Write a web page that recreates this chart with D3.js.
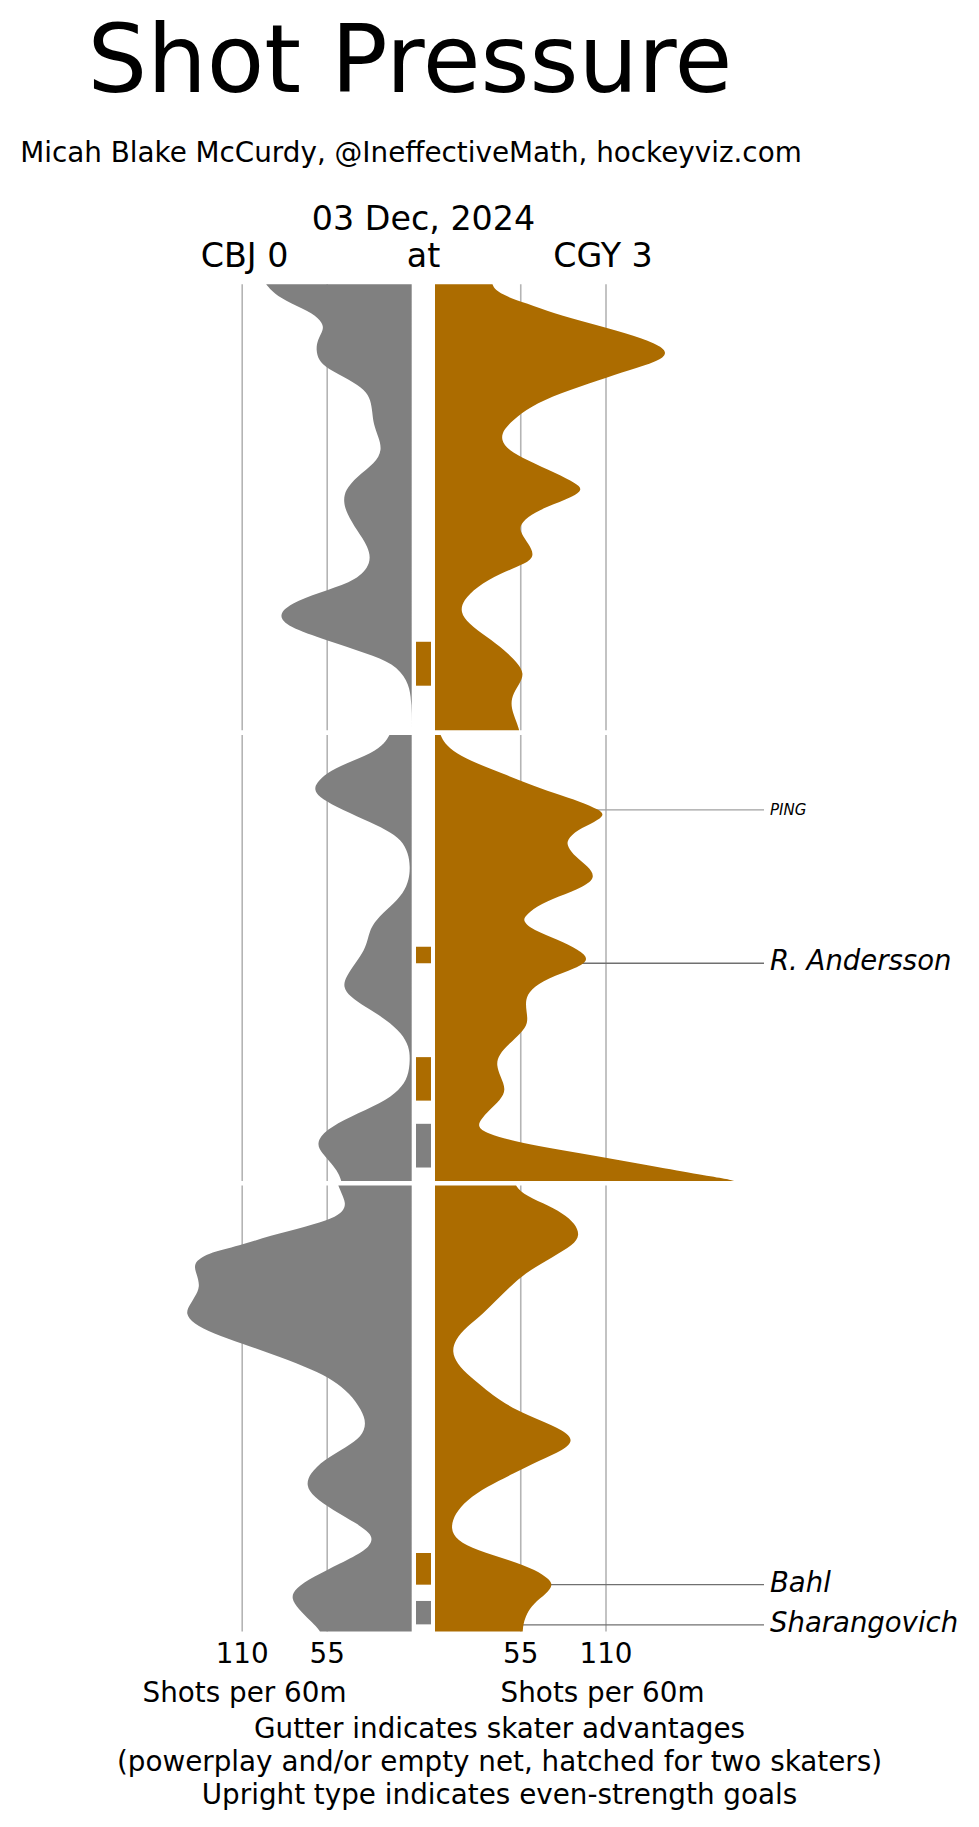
<!DOCTYPE html>
<html>
<head>
<meta charset="utf-8">
<script src="https://cdnjs.cloudflare.com/ajax/libs/d3/7.8.5/d3.min.js"></script>
<style>
body { margin: 0; background: #fff; }
text { font-family: 'DejaVu Sans', sans-serif; fill: #000; }
.axis path.domain { display: none; }
.grid line { stroke: #b4b4b4; stroke-width: 1.6; }
</style>
</head>
<body>
<div id="vis"></div>
<script>
// shot rates, [minute of period, shots per 60]
var cbjP1 = [[0,94.2],[0.4,89.4],[0.85,78.7],[1.3,63.6],[1.75,57.5],[2.05,57.1],[2.5,61],[2.95,61.9],[3.4,60.3],[3.77,54.9],[4.29,39.9],[4.74,30.2],[5.19,26.5],[5.79,25.4],[6.24,24.8],[6.84,21.6],[7.43,19],[8.03,23.7],[8.63,35.6],[9.23,43.1],[9.75,44.2],[10.28,42],[11.02,35.6],[11.77,28],[12.52,25.9],[13.27,35.6],[13.72,54.7],[14.17,74],[14.76,87.3],[15.36,80.8],[15.96,55],[16.56,29],[17.0,11.8],[17.76,2.6],[18.5,0.4],[19.25,0],[20,0]];
var cgyP1 = [[0,37.1],[0.25,38.6],[0.55,46.1],[0.85,59],[1.3,76.2],[1.75,99.8],[2.2,123.4],[2.65,142.7],[3.07,151],[3.47,143.5],[3.84,125.5],[4.29,106.2],[4.89,80.5],[5.49,61.2],[6.09,50.4],[6.54,44],[6.98,42.5],[7.43,47.2],[7.88,59],[8.48,78.3],[8.93,91],[9.2,95.5],[9.53,89.1],[9.98,71.9],[10.43,59],[10.88,54.3],[11.18,55.8],[11.62,60.1],[12.15,64.5],[12.52,59],[12.97,41.8],[13.57,26.8],[14.17,18.2],[14.69,16.2],[15.21,21.5],[15.81,33.3],[16.41,45.1],[17.0,53.6],[17.46,57.5],[17.9,54.7],[18.35,50.4],[18.8,48.9],[19.25,50.4],[19.7,53],[20,54.3]];
var cbjP2 = [[0,14.4],[0.37,17.3],[0.82,25.7],[1.27,42.4],[1.72,55.6],[2.17,61.6],[2.44,63],[2.77,60.4],[3.21,49.6],[3.81,30.5],[4.26,16.1],[4.71,6.5],[5.31,2.2],[5.9,1],[6.5,1.7],[7.1,5.3],[7.7,13.7],[8.3,23.3],[8.74,26.9],[9.19,28.5],[9.64,30.5],[10.24,36.5],[10.84,42.4],[11.29,44.6],[11.73,40],[12.18,30.5],[12.78,16.1],[13.38,6.5],[13.98,1.7],[14.57,1],[15.32,2.2],[15.92,7.7],[16.52,19.7],[17.12,40],[17.71,55.6],[18.31,62],[18.76,58],[19.21,52],[19.66,47.2],[20,45.6]];
var cgyP2 = [[0,3.6],[0.37,6],[0.82,13.3],[1.27,26.5],[1.72,43.4],[2.17,59],[2.62,77.1],[3.0,94],[3.36,106],[3.59,109.5],[3.89,103.6],[4.26,91.6],[4.71,85],[5.01,85.5],[5.46,90.4],[5.9,98.8],[6.38,103.8],[6.8,96.4],[7.25,79.5],[7.7,65],[8.15,57.8],[8.37,57],[8.74,62.7],[9.19,79.5],[9.64,92.8],[10.06,100],[10.46,91.6],[10.91,72.3],[11.43,61.4],[11.88,58.3],[12.41,59],[12.93,60.2],[13.38,55.4],[13.83,48.2],[14.35,41],[14.8,39.5],[15.32,42.2],[15.92,46],[16.37,42.2],[16.82,35],[17.26,29.4],[17.56,27.5],[17.86,32.5],[18.31,55.4],[18.76,94],[19.21,130],[19.66,166.3],[19.88,185.5],[20,193]];
var cbjP3 = [[0,47.5],[0.35,45.4],[0.8,42.5],[1.17,44.3],[1.47,50.8],[1.85,68],[2.25,91.8],[2.7,111.2],[3.04,132.8],[3.49,141.5],[3.94,139.3],[4.54,136.7],[4.99,140.4],[5.36,143.6],[5.74,146.5],[6.19,141.5],[6.64,128.5],[7.08,110.2],[7.68,85.3],[8.28,63.7],[8.73,50.8],[9.33,40],[10.07,32.4],[10.67,29.2],[11.27,32.4],[11.72,42.1],[12.32,57.2],[12.92,65.9],[13.44,68.5],[13.96,63.7],[14.56,50.8],[15.15,35.6],[15.6,26.9],[15.9,25.2],[16.35,29.2],[16.95,46.4],[17.55,63.7],[18.08,75.6],[18.52,78.2],[18.98,73.4],[19.5,65.9],[19.87,60.5],[20,59.4]];
var cgyP3 = [[0,52.3],[0.35,55.9],[0.8,69.9],[1.25,82.8],[1.7,90.3],[2.22,93.6],[2.67,89.2],[3.19,76.3],[3.79,61.3],[4.39,50.5],[4.99,41.9],[5.74,31.2],[6.34,20.4],[6.93,12.9],[7.46,11],[7.98,14],[8.58,22.6],[9.18,33.3],[9.63,41.9],[10.08,52.7],[10.52,67.7],[10.97,82.8],[11.42,89.8],[11.87,82.8],[12.32,67.7],[12.92,50.5],[13.51,33.3],[14.11,20.4],[14.71,12.9],[15.38,9.8],[15.91,14],[16.36,26.9],[16.8,48.4],[17.25,65.6],[17.63,73.1],[17.9,76.3],[18.3,72],[18.75,63.4],[19.2,59.1],[19.65,57],[20,56.6]];

// skater advantages, [period, start minute, end minute]
var cgyAdvantages = [[1,16.03,18.0],[2,9.5,10.24],[2,14.45,16.4],[3,16.48,17.9]];
var cbjAdvantages = [[2,17.44,19.4],[3,18.63,19.68]];

// goals
var goalScorers = ['PING', 'R. Andersson', 'Bahl', 'Sharangovich'];
var goalPeriods = [2, 2, 3, 3];
var goalMinutes = [3.36, 10.24, 17.9, 19.7];

var rateTicks = [55, 110];

var width = 979, height = 1827;
var periodTop = 284.3, periodH = 446, periodGap = 4.6;
var leftEdge = 411.7, rightEdge = 435;
var gutterX = 416, gutterW = 15;
var cbjColor = '#808080', cgyColor = '#ac6c00';

var svg = d3.select('#vis').append('svg')
    .attr('width', width)
    .attr('height', height);

var xLeft = d3.scaleLinear().domain([0, 110]).range([leftEdge, leftEdge - 170]);
var xRight = d3.scaleLinear().domain([0, 110]).range([rightEdge, rightEdge + 170.5]);

var periodScale = function(p) {
    var top = periodTop + (p - 1) * (periodH + periodGap);
    return d3.scaleLinear().domain([0, 20]).range([top, top + periodH]);
};

var curve = d3.curveBasis;
var cbjData = [cbjP1, cbjP2, cbjP3];
var cgyData = [cgyP1, cgyP2, cgyP3];

[1, 2, 3].forEach(function(p) {
    var y = periodScale(p);
    // gridlines
    svg.append('g').attr('class', 'grid axis')
        .attr('transform', 'translate(0,' + y(0) + ')')
        .call(d3.axisTop(xLeft).tickValues(rateTicks).tickSize(-periodH).tickFormat(''));
    svg.append('g').attr('class', 'grid axis')
        .attr('transform', 'translate(0,' + y(0) + ')')
        .call(d3.axisTop(xRight).tickValues(rateTicks).tickSize(-periodH).tickFormat(''));
});

// goal leader lines
var goals = goalScorers.map(function(s, i) {
    return {scorer: s, period: goalPeriods[i], minute: goalMinutes[i]};
});
svg.selectAll('.goal-line').data(goals).enter().append('line')
    .attr('class', 'goal-line')
    .attr('x1', rightEdge)
    .attr('x2', 764)
    .attr('y1', d => periodScale(d.period)(d.minute))
    .attr('y2', d => periodScale(d.period)(d.minute))
    .style('stroke', d => d.scorer === 'PING' ? '#a0a0a0' : '#707070')
    .style('stroke-width', 1.3);

[1, 2, 3].forEach(function(p) {
    var y = periodScale(p);
    var leftArea = d3.area().curve(curve)
        .y(d => y(d[0]))
        .x0(leftEdge)
        .x1(d => xLeft(d[1]));
    var rightArea = d3.area().curve(curve)
        .y(d => y(d[0]))
        .x0(rightEdge)
        .x1(d => xRight(d[1]));
    svg.append('path').datum(cbjData[p - 1])
        .attr('d', leftArea)
        .style('fill', cbjColor);
    svg.append('path').datum(cgyData[p - 1])
        .attr('d', rightArea)
        .style('fill', cgyColor);
});

// gutter
var drawGutter = function(data, color) {
    svg.selectAll(null).data(data).enter().append('rect')
        .attr('x', gutterX)
        .attr('width', gutterW)
        .attr('y', d => periodScale(d[0])(d[1]))
        .attr('height', d => periodScale(d[0])(d[2]) - periodScale(d[0])(d[1]))
        .style('fill', color);
};
drawGutter(cgyAdvantages, cgyColor);
drawGutter(cbjAdvantages, cbjColor);

// goal labels
svg.selectAll('.goal-label').data(goals).enter().append('text')
    .attr('class', 'goal-label')
    .attr('x', 770)
    .attr('y', d => periodScale(d.period)(d.minute))
    .attr('dy', d => d.scorer === 'PING' ? '0.33em' : '0.25em')
    .style('font-style', 'italic')
    .style('font-size', d => d.scorer === 'PING' ? '15px' : '27.5px')
    .text(d => d.scorer);

// bottom axes
var bottom = periodScale(3)(20);
var leftAxis = svg.append('g').attr('class', 'axis')
    .attr('transform', 'translate(0,' + bottom + ')')
    .call(d3.axisBottom(xLeft).tickValues(rateTicks).tickSize(0).tickPadding(12));
var rightAxis = svg.append('g').attr('class', 'axis')
    .attr('transform', 'translate(0,' + bottom + ')')
    .call(d3.axisBottom(xRight).tickValues(rateTicks).tickSize(0).tickPadding(12));
svg.selectAll('.axis text')
    .style('font-size', '27.8px')
    .style('font-family', "'DejaVu Sans', sans-serif")
    .style('fill', '#000');

var addText = function(x, y, size, str) {
    svg.append('text')
        .attr('x', x)
        .attr('y', y)
        .attr('text-anchor', 'middle')
        .style('font-size', size + 'px')
        .text(str);
};

addText(410, 92, 94, 'Shot Pressure');
addText(411, 161.7, 27.8, 'Micah Blake McCurdy, @IneffectiveMath, hockeyviz.com');
addText(423.5, 230, 33.3, '03 Dec, 2024');
addText(244.5, 266.7, 33.3, 'CBJ 0');
addText(423.5, 266.7, 33.3, 'at');
addText(603, 266.7, 33.3, 'CGY 3');
addText(244.5, 1702, 27.8, 'Shots per 60m');
addText(602.6, 1702, 27.8, 'Shots per 60m');
addText(499.5, 1738, 27.8, 'Gutter indicates skater advantages');
addText(499.5, 1771, 27.8, '(powerplay and/or empty net, hatched for two skaters)');
addText(499.5, 1803.5, 27.8, 'Upright type indicates even-strength goals');
</script>
</body>
</html>
